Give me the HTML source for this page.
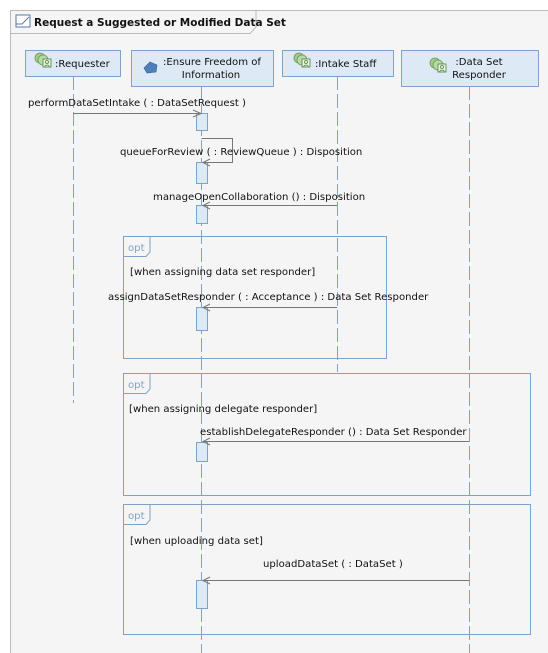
<!DOCTYPE html>
<html><head><meta charset="utf-8"><style>
html,body{margin:0;padding:0;background:#fff;}
svg{display:block;}
text{font-family:"DejaVu Sans","Liberation Sans",sans-serif;font-size:10.1px;fill:#111;}
</style></head><body>
<svg width="548" height="653" viewBox="0 0 548 653" xmlns="http://www.w3.org/2000/svg">
<defs>
<g id="ic">
<circle cx="0" cy="0" r="5" fill="#9ccf8a" stroke="#6a9a5a" stroke-width="0.8"/>
<circle cx="3" cy="2" r="5" fill="#b6dca4" stroke="#6a9a5a" stroke-width="0.8"/>
<rect x="3" y="1" width="8" height="8" fill="#e8f4e0" stroke="#4f7f3f" stroke-width="0.8"/>
<circle cx="7" cy="4" r="1.5" fill="none" stroke="#4f7f3f" stroke-width="0.8"/>
<path d="M4.5 8.5 Q7 5.5 9.5 8.5" fill="none" stroke="#4f7f3f" stroke-width="0.8"/>
</g>
</defs>
<rect x="10.5" y="10.5" width="545" height="660" fill="#f5f5f5" stroke="#bbb" stroke-width="1"/>
<path d="M10.5 33.5 H250 L256 27 V10.5" fill="none" stroke="#bbb"/>
<rect x="16" y="15" width="14" height="12" fill="#fff" stroke="#557aa0"/>
<path d="M16 24 L22 24 L29 17" fill="none" stroke="#557aa0"/>
<text x="34" y="26" style="font-weight:bold;font-size:10.5px">Request a Suggested or Modified Data Set</text>

<g stroke="#7da4c8" stroke-width="1" stroke-dasharray="14,4" fill="none">
<line x1="73.5" y1="76" x2="73.5" y2="403"/>
<line x1="201.5" y1="86" x2="201.5" y2="653"/>
<line x1="337.5" y1="76" x2="337.5" y2="372"/>
<line x1="469.5" y1="86" x2="469.5" y2="653"/>
</g>

<g fill="#dde9f5" stroke="#7da4c8">
<rect x="25.5" y="50.5" width="95" height="26"/>
<rect x="131.5" y="50.5" width="142" height="36"/>
<rect x="282.5" y="50.5" width="111" height="26"/>
<rect x="401.5" y="50.5" width="137" height="36"/>
</g>
<use href="#ic" x="40" y="58"/>
<text x="55" y="67">:Requester</text>
<path d="M144 68 L150 62 L157 65 L156 72 L147 73 Z" fill="#4f7fb8" stroke="#2f5f98" stroke-width="0.6"/>
<text x="212" y="65" text-anchor="middle">:Ensure Freedom of</text>
<text x="211" y="78" text-anchor="middle">Information</text>
<use href="#ic" x="299" y="58"/>
<text x="315" y="67">:Intake Staff</text>
<use href="#ic" x="435" y="63"/>
<text x="479" y="65" text-anchor="middle">:Data Set</text>
<text x="479" y="78" text-anchor="middle">Responder</text>

<g fill="none" stroke="#7da4c8">
<rect x="123.5" y="236.5" width="263" height="122"/>
<path d="M123.5 256.5 H146 L150 252 V236.5"/>
<rect x="123.5" y="373.5" width="407" height="122"/>
<path d="M123.5 393.5 H146 L150 389 V373.5"/>
<rect x="123.5" y="504.5" width="407" height="130"/>
<path d="M123.5 524.5 H146 L150 520 V504.5"/>
</g>
<text x="128" y="251" style="fill:#7da4c8">opt</text>
<text x="128" y="388" style="fill:#7da4c8">opt</text>
<text x="128" y="519" style="fill:#7da4c8">opt</text>
<text x="130" y="275">[when assigning data set responder]</text>
<text x="129" y="412">[when assigning delegate responder]</text>
<text x="130" y="544">[when uploading data set]</text>

<g fill="#dde9f5" stroke="#7da4c8">
<rect x="196.5" y="113.5" width="11" height="17"/>
<rect x="196.5" y="162.5" width="11" height="21"/>
<rect x="196.5" y="205.5" width="11" height="18"/>
<rect x="196.5" y="307.5" width="11" height="23"/>
<rect x="196.5" y="442.5" width="11" height="19"/>
<rect x="196.5" y="580.5" width="11" height="28"/>
</g>

<g stroke="#777" fill="none" stroke-width="1">
<line x1="73.5" y1="113.5" x2="201" y2="113.5"/>
<path d="M193 110 L201 113.5 L193 117"/>
<path d="M201.5 138.5 H232.5 V162.5 H203"/>
<path d="M210 159 L203 162.5 L210 166"/>
<line x1="337" y1="205.5" x2="203" y2="205.5"/>
<path d="M210 202 L203 205.5 L210 209"/>
<line x1="337" y1="307.5" x2="203" y2="307.5"/>
<path d="M210 304 L203 307.5 L210 311"/>
<line x1="469" y1="441.5" x2="203" y2="441.5"/>
<path d="M210 438 L203 441.5 L210 445"/>
<line x1="469" y1="580.5" x2="203" y2="580.5"/>
<path d="M210 577 L203 580.5 L210 584"/>
</g>
<text x="28" y="106">performDataSetIntake (  : DataSetRequest )</text>
<text x="120" y="155">queueForReview (  : ReviewQueue ) : Disposition</text>
<text x="153" y="200">manageOpenCollaboration () : Disposition</text>
<text x="108" y="300">assignDataSetResponder (  : Acceptance ) : Data Set Responder</text>
<text x="200" y="435">establishDelegateResponder () : Data Set Responder</text>
<text x="263" y="567">uploadDataSet (  : DataSet )</text>
</svg>
</body></html>
